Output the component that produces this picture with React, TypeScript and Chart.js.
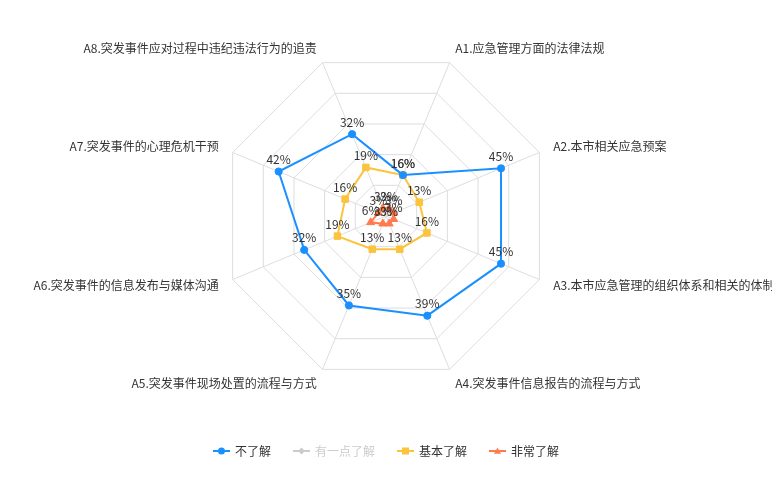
import React, { useEffect, useRef } from 'react';
import { Chart, registerables } from 'chart.js';

Chart.register(...registerables);

const indicators = [
  'A1.应急管理方面的法律法规',
  'A2.本市相关应急预案',
  'A3.本市应急管理的组织体系和相关的体制',
  'A4.突发事件信息报告的流程与方式',
  'A5.突发事件现场处置的流程与方式',
  'A6.突发事件的信息发布与媒体沟通',
  'A7.突发事件的心理危机干预',
  'A8.突发事件应对过程中违纪违法行为的追责',
];
const seriesNames = ['不了解', '有一点了解', '基本了解', '非常了解'];
const notKnow = [16, 45, 45, 39, 35, 32, 42, 32];
const littleKnow = [65, 39, 36, 45, 49, 43, 39, 46];
const basicKnow = [16, 13, 16, 13, 13, 19, 16, 19];
const veryKnow = [3, 3, 3, 3, 3, 6, 3, 3];
const hiddenSeries = [false, true, false, false];
const maxValue = 60;
const stepValue = 12;

const colors = ['#1a90ff', '#cccccc', '#fcc33d', '#ff7a4f'];
const symbols = ['circle', 'rectRot', 'rect', 'triangle'];
const radii = [3.6, 4, 4.6, 4.6];
const FONT = '12px "Microsoft YaHei", "Noto Sans CJK SC", sans-serif';

function drawMarker(ctx: CanvasRenderingContext2D, style: string, x: number, y: number, s: number) {
  ctx.beginPath();
  if (style === 'circle') {
    ctx.arc(x, y, s, 0, Math.PI * 2);
  } else if (style === 'rect') {
    ctx.rect(x - s, y - s, 2 * s, 2 * s);
  } else if (style === 'rectRot') {
    ctx.moveTo(x, y - s);
    ctx.lineTo(x + s, y);
    ctx.lineTo(x, y + s);
    ctx.lineTo(x - s, y);
    ctx.closePath();
  } else {
    ctx.moveTo(x, y - s);
    ctx.lineTo(x + s, y + s * 0.8);
    ctx.lineTo(x - s, y + s * 0.8);
    ctx.closePath();
  }
  ctx.fill();
}

const overlayPlugin = {
  id: 'overlay',
  afterDatasetsDraw(chart: any) {
    const ctx: CanvasRenderingContext2D = chart.ctx;
    const scale = chart.scales.r;
    ctx.save();
    ctx.font = FONT;
    // axis names
    ctx.fillStyle = '#333';
    ctx.textBaseline = 'middle';
    indicators.forEach((name, i) => {
      const p = scale.getPointPosition(i, scale.drawingArea + 15);
      const dx = p.x - scale.xCenter;
      ctx.textAlign = Math.abs(dx) < 1 ? 'center' : dx > 0 ? 'left' : 'right';
      ctx.fillText(name, p.x, p.y);
    });
    // data labels
    ctx.textAlign = 'center';
    ctx.textBaseline = 'middle';
    ctx.fillStyle = '#333';
    chart.data.datasets.forEach((ds: any, di: number) => {
      if (!chart.isDatasetVisible(di)) return;
      const meta = chart.getDatasetMeta(di);
      meta.data.forEach((pt: any, i: number) => {
        ctx.fillText(ds.data[i] + '%', pt.x, pt.y - 12);
      });
    });
    // legend
    const iconW = 17;
    const iconGap = 5;
    const itemGap = 22;
    const widths = seriesNames.map((n) => ctx.measureText(n).width);
    const total = widths.reduce((a, b) => a + b, 0) + seriesNames.length * (iconW + iconGap) + itemGap * (seriesNames.length - 1);
    let x = (chart.width - total) / 2;
    const y = 451;
    seriesNames.forEach((n, i) => {
      const c = hiddenSeries[i] ? '#cccccc' : colors[i];
      ctx.strokeStyle = c;
      ctx.fillStyle = c;
      ctx.lineWidth = 2;
      ctx.beginPath();
      ctx.moveTo(x, y);
      ctx.lineTo(x + iconW, y);
      ctx.stroke();
      drawMarker(ctx, symbols[i], x + iconW / 2, y, 3.5);
      ctx.fillStyle = hiddenSeries[i] ? '#cccccc' : '#333';
      ctx.textAlign = 'left';
      ctx.textBaseline = 'middle';
      ctx.fillText(n, x + iconW + iconGap, y);
      x += iconW + iconGap + widths[i] + itemGap;
    });
    ctx.restore();
  },
};

export default function App() {
  const ref = useRef<HTMLCanvasElement | null>(null);
  useEffect(() => {
    if (!ref.current) return;
    const values = [notKnow, littleKnow, basicKnow, veryKnow];
    const chart = new Chart(ref.current, {
      type: 'radar',
      data: {
        labels: indicators,
        datasets: seriesNames.map((name, i) => ({
          label: name,
          data: values[i],
          hidden: hiddenSeries[i],
          borderColor: colors[i],
          backgroundColor: colors[i],
          borderWidth: 2,
          fill: false,
          tension: 0,
          pointStyle: symbols[i] as any,
          pointRadius: radii[i],
          pointBorderWidth: 1,
          pointBackgroundColor: colors[i],
          pointBorderColor: colors[i],
        })),
      },
      options: {
        responsive: false,
        devicePixelRatio: 1,
        animation: false,
        layout: { padding: { top: 50, bottom: 96, left: 0, right: 0 } },
        plugins: {
          legend: { display: false },
          tooltip: { enabled: false },
        },
        scales: {
          r: {
            min: 0,
            max: maxValue,
            startAngle: 22.5,
            ticks: { display: false, stepSize: stepValue },
            pointLabels: { display: false },
            grid: { color: '#dddddd', lineWidth: 1, circular: false },
            angleLines: { color: '#dddddd', lineWidth: 1 },
          },
        },
      },
      plugins: [overlayPlugin],
    });
    return () => chart.destroy();
  }, []);
  return (
    <div style={{ position: 'absolute', left: 0, top: 0, width: 772, height: 479, background: '#fff' }}>
      <canvas ref={ref} width={772} height={479} style={{ width: 772, height: 479 }} />
    </div>
  );
}
